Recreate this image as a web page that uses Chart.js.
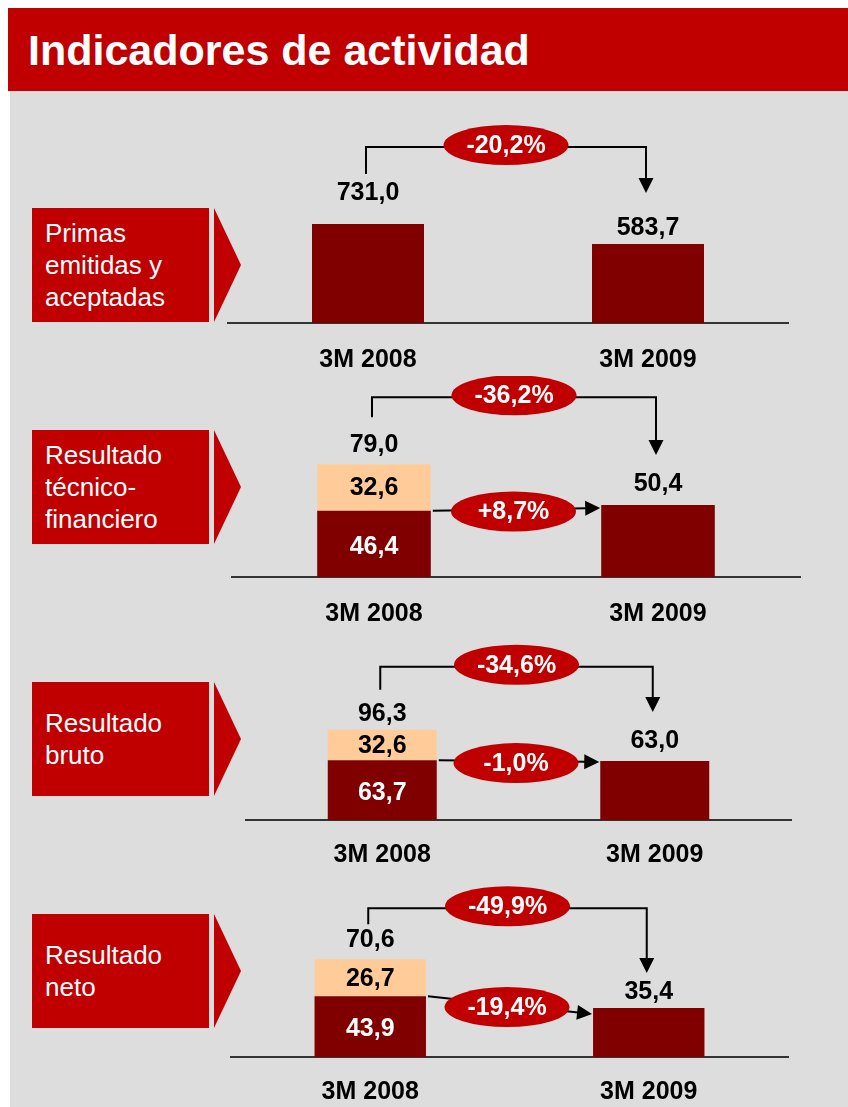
<!DOCTYPE html>
<html lang="es">
<head>
<meta charset="utf-8">
<title>Indicadores de actividad</title>
<script src="https://cdn.jsdelivr.net/npm/chart.js@4.4.1/dist/chart.umd.min.js"></script>
<style>
  body { margin: 0; width: 848px; height: 1107px; background: #fff; position: relative; overflow: hidden;
         font-family: Arial, "Liberation Sans", sans-serif; }
  #fondo { position: absolute; left: 10px; top: 91px; width: 838px; height: 1016px; background: #dddddd; }
  #titulo { position: absolute; left: 8px; top: 8px; width: 840px; height: 83px; background: #c00000; }
  #titulo span { position: absolute; left: 20px; top: 21px; font-size: 43px; line-height: 43px;
                 font-weight: bold; color: #fff; white-space: nowrap; }
  .etiqueta { position: absolute; left: 32px; width: 177px; height: 114px; background: #c00000; color: #fff;
              font-size: 26px; line-height: 32px; padding-left: 13px; box-sizing: border-box;
              display: flex; align-items: center; }
  .flecha { position: absolute; left: 214px; width: 27px; height: 114px; background: #c00000;
            clip-path: polygon(0 0, 100% 50%, 0 100%); }
  canvas { position: absolute; left: 0; }
</style>
</head>
<body>
<div id="fondo"></div>
<div id="titulo"><span>Indicadores de actividad</span></div>
<div id="paneles"></div>

<script>
// --- DATOS ---
const categories = ['3M 2008', '3M 2009'];
const panelNames = [
    ['Primas', 'emitidas y', 'aceptadas'],
    ['Resultado', 'técnico-', 'financiero'],
    ['Resultado', 'bruto'],
    ['Resultado', 'neto']
];
const primasBase = [731.0, 583.7];
const primasExtra = [0, 0];
const tecnicoBase = [46.4, 50.4];
const tecnicoExtra = [32.6, 0];
const brutoBase = [63.7, 63.0];
const brutoExtra = [32.6, 0];
const netoBase = [43.9, 35.4];
const netoExtra = [26.7, 0];
const totalChange = ['-20,2%', '-36,2%', '-34,6%', '-49,9%'];
const baseChange = [null, '+8,7%', '-1,0%', '-19,4%'];

// --- COLORES / FUENTES ---
const ROJO = '#c00000';
const GRANATE = '#800000';
const MELOCOTON = '#ffcc99';
const FUENTE = 'Arial, "Liberation Sans", sans-serif';
const negrita = 'bold 25px ' + FUENTE;

// posicion de cada panel en la pagina
const paneles = [
    { base: primasBase, extra: primasExtra, top: 100, height: 275, padTop: 20, axisH: 52, tickPad: 22,
      left: 228, right: 788, max: 1500, box: 208, gaps: [31, 16], rise: 46, drop: 19, tip: 35, dip: 0 },
    { base: tecnicoBase, extra: tecnicoExtra, top: 376, height: 250, padTop: 24, axisH: 49, tickPad: 22,
      left: 232, right: 800, max: 124, box: 430, gaps: [19, 21], rise: 48, drop: 28, tip: 29, dip: 3 },
    { base: brutoBase, extra: brutoExtra, top: 636, height: 240, padTop: 19, axisH: 56, tickPad: 20,
      left: 246, right: 791, max: 176, box: 682, gaps: [16, 20], rise: 47, drop: 24, tip: 29, dip: 1 },
    { base: netoBase, extra: netoExtra, top: 880, height: 227, padTop: 15, axisH: 50, tickPad: 20,
      left: 231, right: 788, max: 117, box: 914, gaps: [19, 16], rise: 32, drop: 16, tip: 19, dip: 6 }
];

function fmt(v) {
    return v.toFixed(1).replace('.', ',');
}

function puntaFlecha(ctx, x, y, ang) {
    ctx.save();
    ctx.translate(x, y);
    ctx.rotate(ang);
    ctx.beginPath();
    ctx.moveTo(0, 0);
    ctx.lineTo(-15, -7.5);
    ctx.lineTo(-15, 7.5);
    ctx.closePath();
    ctx.fillStyle = '#000';
    ctx.fill();
    ctx.restore();
}

function elipse(ctx, cx, cy, texto) {
    ctx.beginPath();
    ctx.ellipse(cx, cy, 62.5, 20, 0, 0, Math.PI * 2);
    ctx.fillStyle = ROJO;
    ctx.fill();
    ctx.fillStyle = '#fff';
    ctx.font = negrita;
    ctx.fillText(texto, cx, cy + 1);
}

// etiquetas, llaves y elipses de variacion
const anotaciones = {
    id: 'anotaciones',
    afterDatasetsDraw(chart, args, o) {
        const ctx = chart.ctx;
        const barras = chart.getDatasetMeta(0).data;
        const vb = chart.data.datasets[0].data;
        const ve = chart.data.datasets[1].data;
        const y = chart.scales.y;
        const cero = y.getPixelForValue(0);

        ctx.save();
        ctx.textAlign = 'center';
        ctx.textBaseline = 'middle';
        ctx.font = negrita;

        const labelY = [];
        for (let i = 0; i < 2; i++) {
            const total = vb[i] + ve[i];
            const top = y.getPixelForValue(total);
            labelY[i] = top - o.gaps[i];
            ctx.fillStyle = '#000';
            ctx.fillText(fmt(total), barras[i].x, labelY[i]);
            if (ve[i] > 0) {
                const corte = y.getPixelForValue(vb[i]);
                ctx.fillText(fmt(ve[i]), barras[i].x, (top + corte) / 2 + 1);
                ctx.fillStyle = '#fff';
                ctx.fillText(fmt(vb[i]), barras[i].x, (corte + cero) / 2 + 3);
            }
        }

        // llave superior (variacion del total)
        const xL = barras[0].x - 2;
        const xR = barras[1].x - 2;
        const yB = labelY[0] - o.rise;
        const yTip = labelY[1] - o.tip;
        ctx.strokeStyle = '#000';
        ctx.lineWidth = 2;
        ctx.beginPath();
        ctx.moveTo(xL, labelY[0] - o.drop);
        ctx.lineTo(xL, yB);
        ctx.lineTo(xR, yB);
        ctx.lineTo(xR, yTip - 14);
        ctx.stroke();
        puntaFlecha(ctx, xR, yTip, Math.PI / 2);
        elipse(ctx, (xL + xR) / 2, yB - 2, o.total);

        // flecha intermedia (variacion de la parte base)
        if (o.parcial) {
            const x0 = barras[0].x + barras[0].width / 2 + 2;
            const y0 = y.getPixelForValue(vb[0]);
            const x1 = barras[1].x - barras[1].width / 2 - 1;
            const y1 = y.getPixelForValue(vb[1]) + o.dip;
            const ang = Math.atan2(y1 - y0, x1 - x0);
            ctx.beginPath();
            ctx.moveTo(x0, y0);
            ctx.lineTo(x1 - 14 * Math.cos(ang), y1 - 14 * Math.sin(ang));
            ctx.stroke();
            puntaFlecha(ctx, x1, y1, ang);
            elipse(ctx, (x0 + x1) / 2 - 3, (y0 + y1) / 2 + 2, o.parcial);
        }
        ctx.restore();
    }
};

const contenedor = document.getElementById('paneles');

paneles.forEach((p, k) => {
    // caja roja con el nombre del indicador
    const caja = document.createElement('div');
    caja.className = 'etiqueta';
    caja.style.top = p.box + 'px';
    caja.innerHTML = '<div>' + panelNames[k].join('<br>') + '</div>';
    contenedor.appendChild(caja);
    const punta = document.createElement('div');
    punta.className = 'flecha';
    punta.style.top = p.box + 'px';
    contenedor.appendChild(punta);

    const canvas = document.createElement('canvas');
    canvas.width = 848;
    canvas.height = p.height;
    canvas.style.top = p.top + 'px';
    contenedor.appendChild(canvas);

    new Chart(canvas, {
        type: 'bar',
        data: {
            labels: categories,
            datasets: [
                { data: p.base, backgroundColor: GRANATE, borderWidth: 0 },
                { data: p.extra, backgroundColor: MELOCOTON, borderWidth: 0 }
            ]
        },
        options: {
            responsive: false,
            animation: false,
            events: [],
            categoryPercentage: 1,
            barPercentage: 0.4,
            layout: { padding: { top: p.padTop, left: p.left, right: 848 - p.right, bottom: 0 } },
            plugins: {
                legend: { display: false },
                tooltip: { enabled: false },
                anotaciones: {
                    total: totalChange[k], parcial: baseChange[k],
                    gaps: p.gaps, rise: p.rise, drop: p.drop, tip: p.tip, dip: p.dip
                }
            },
            scales: {
                x: {
                    stacked: true,
                    grid: { display: false, drawTicks: false },
                    border: { display: true, color: '#333', width: 2 },
                    ticks: { color: '#000', padding: p.tickPad, font: { family: FUENTE, size: 25, weight: 'bold' } },
                    afterFit: s => { s.height = p.axisH; }
                },
                y: { stacked: true, display: false, min: 0, max: p.max }
            }
        },
        plugins: [anotaciones]
    });
});
</script>
</body>
</html>
